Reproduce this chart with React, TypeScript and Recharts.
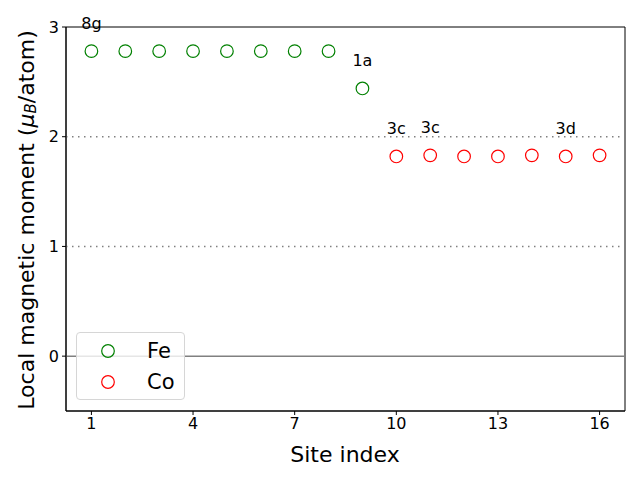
import React from 'react';
import {
  ScatterChart,
  Scatter,
  XAxis,
  YAxis,
  ReferenceLine,
  ReferenceArea,
  LabelList,
} from 'recharts';

// site indices and moments (mu_B / atom)
const feSites = [1, 2, 3, 4, 5, 6, 7, 8, 9];
const feMoments = [2.78, 2.78, 2.78, 2.78, 2.78, 2.78, 2.78, 2.78, 2.44];
const feLabels = ['8g', '', '', '', '', '', '', '', '1a'];

const coSites = [10, 11, 12, 13, 14, 15, 16];
const coMoments = [1.82, 1.83, 1.82, 1.82, 1.83, 1.82, 1.83];
const coLabels = ['3c', '3c', '', '', '', '3d', ''];

const xTicks = [1, 4, 7, 10, 13, 16];
const yTicks = [0, 1, 2, 3];

const FONT = 'DejaVu Sans, sans-serif';

const feData = feSites.map((s, i) => ({ site: s, moment: feMoments[i], tag: feLabels[i] }));
const coData = coSites.map((s, i) => ({ site: s, moment: coMoments[i], tag: coLabels[i] }));

const ring = (color: string) => (props: any) => (
  <circle cx={props.cx} cy={props.cy} r={6.3} fill="none" stroke={color} strokeWidth={1.2} />
);

const siteTag = (props: any) => {
  const { x, y, width, height, value } = props;
  if (!value) return null;
  const cx = x + (width || 0) / 2;
  const cy = y + (height || 0) / 2;
  return (
    <text x={cx} y={cy - 28} textAnchor="middle" dominantBaseline="central" fontSize={16} fontFamily={FONT} fill="#000">
      {value}
    </text>
  );
};

const LegendBox = () => (
  <div
    style={{
      position: 'absolute',
      left: 76,
      top: 332,
      width: 107,
      height: 66,
      border: '1px solid #d6d6d6',
      borderRadius: 4,
      background: 'rgba(255,255,255,0.8)',
      fontFamily: FONT,
      fontSize: 21,
    }}
  >
    {[
      { name: 'Fe', color: 'green', top: 3 },
      { name: 'Co', color: 'red', top: 34 },
    ].map((d) => (
      <div key={d.name} style={{ position: 'absolute', left: 0, top: d.top, height: 30, width: 107 }}>
        <svg width={40} height={30} style={{ position: 'absolute', left: 11, top: 0 }}>
          <circle cx={20} cy={15} r={6.3} fill="none" stroke={d.color} strokeWidth={1.2} />
        </svg>
        <span style={{ position: 'absolute', left: 70, top: 2, lineHeight: '26px', color: '#000' }}>{d.name}</span>
      </div>
    ))}
  </div>
);

const YLabel = () => (
  <text
    x={26}
    y={220}
    transform="rotate(-90 26 220)"
    textAnchor="middle"
    dominantBaseline="central"
    fontSize={22}
    fontFamily={FONT}
    fill="#000"
  >
    Local magnetic moment (
    <tspan fontStyle="italic">μ</tspan>
    <tspan fontStyle="italic" fontSize={15} dy={5}>B</tspan>
    <tspan dy={-5}>/atom)</tspan>
  </text>
);

const XLabel = () => (
  <text x={345} y={454} textAnchor="middle" dominantBaseline="central" fontSize={22} fontFamily={FONT} fill="#000">
    Site index
  </text>
);

const tickStyle = { fontSize: 16, fill: '#000', fontFamily: FONT };

export default function App() {
  return (
    <div style={{ position: 'absolute', left: 0, top: 0, width: 640, height: 480, background: '#fff' }}>
      <ScatterChart width={640} height={480} margin={{ top: 27, right: 15, bottom: 0, left: 0 }}>
        <XAxis
          type="number"
          dataKey="site"
          domain={[0.25, 16.75]}
          ticks={xTicks}
          height={69}
          tick={tickStyle}
          tickSize={4}
          tickMargin={3}
          axisLine={{ stroke: '#000' }}
          tickLine={{ stroke: '#000' }}
          label={<XLabel />}
        />
        <YAxis
          type="number"
          dataKey="moment"
          domain={[-0.5, 3]}
          ticks={yTicks}
          width={66}
          tick={tickStyle}
          tickSize={4}
          tickMargin={3}
          axisLine={{ stroke: '#000' }}
          tickLine={{ stroke: '#000' }}
          label={<YLabel />}
        />
        <ReferenceLine y={2} stroke="#808080" strokeWidth={1.5} strokeDasharray="1.5 4.5" />
        <ReferenceLine y={1} stroke="#808080" strokeWidth={1.5} strokeDasharray="1.5 4.5" />
        <ReferenceLine y={0} stroke="#808080" strokeWidth={1.5} />
        <ReferenceArea x1={0.25} x2={16.75} y1={-0.5} y2={3} fill="none" stroke="#000" strokeWidth={1} />
        <Scatter name="Fe" data={feData} shape={ring('green')} isAnimationActive={false}>
          <LabelList dataKey="tag" content={siteTag} />
        </Scatter>
        <Scatter name="Co" data={coData} shape={ring('red')} isAnimationActive={false}>
          <LabelList dataKey="tag" content={siteTag} />
        </Scatter>
      </ScatterChart>
      <LegendBox />
    </div>
  );
}
